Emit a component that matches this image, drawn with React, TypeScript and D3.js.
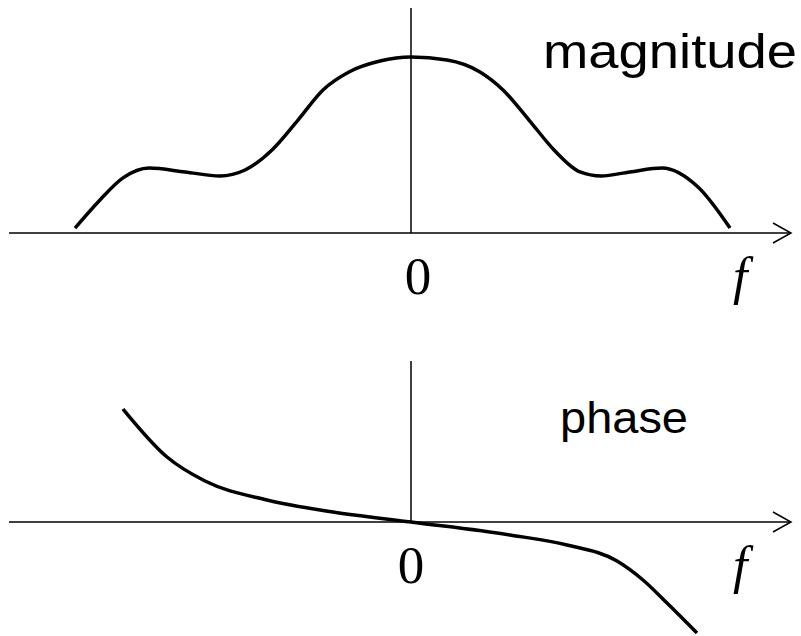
import React from "react";
import * as d3 from "d3";

// Magnitude curve samples: frequency f (units) and magnitude (relative to peak)
const magF = [-6.72, -6.22, -5.76, -5.24, -4.52, -3.82, -3.32, -2.78, -2.26, -1.76, -1.24, -0.62, 0, 0.72, 1.38, 1.84, 2.36, 2.86, 3.38, 3.8, 4.38, 5.02, 5.74, 6.38];
const magV = [0.028, 0.188, 0.313, 0.369, 0.347, 0.324, 0.358, 0.472, 0.642, 0.813, 0.915, 0.977, 1.0, 0.983, 0.915, 0.813, 0.642, 0.472, 0.347, 0.324, 0.347, 0.369, 0.261, 0.028];

// Phase curve samples
const phaseF = [-5.76, -4.88, -4.12, -2.88, -1.56, 0, 1.98, 3.12, 4.12, 4.64, 5.12, 5.72];
const phaseV = [1.13, 0.65, 0.41, 0.22, 0.1, 0, -0.13, -0.23, -0.39, -0.58, -0.81, -1.11];

const tickLabel = "0";
const axisLabel = "f";
const topTitle = "magnitude";
const bottomTitle = "phase";

const W = 801;
const H = 636;

export default function App() {
  const x = d3.scaleLinear().domain([-8, 8]).range([11, 811]);
  const yMag = d3.scaleLinear().domain([0, 1]).range([233, 57]);
  const yPh = d3.scaleLinear().domain([0, 1]).range([522, 422]);

  const magLine = d3
    .line<number>()
    .x((_, i) => x(magF[i]))
    .y((d) => yMag(d))
    .curve(d3.curveMonotoneX);
  const phLine = d3
    .line<number>()
    .x((_, i) => x(phaseF[i]))
    .y((d) => yPh(d))
    .curve(d3.curveMonotoneX);

  const axisLeft = -8.04;
  const axisRight = 7.6;
  const arrowBack = 0.36;
  const arrowHalf = 10;

  const axes = [
    { yBase: yMag(0), yTop: 8, zeroX: 418, labelY: 294 },
    { yBase: yPh(0), yTop: 361, zeroX: 411, labelY: 583 },
  ];

  return (
    <svg
      width={W}
      height={H}
      style={{ position: "absolute", left: 0, top: 0, background: "#fff" }}
    >
      <rect x={0} y={0} width={W} height={H} fill="#fff" />
      {axes.map((a, i) => (
        <g key={i}>
          <line x1={x(axisLeft)} x2={x(axisRight)} y1={a.yBase} y2={a.yBase} stroke="#000" strokeWidth={1.5} />
          <polyline
            points={`${x(axisRight - arrowBack)},${a.yBase - arrowHalf} ${x(axisRight)},${a.yBase} ${x(axisRight - arrowBack)},${a.yBase + arrowHalf}`}
            fill="none"
            stroke="#000"
            strokeWidth={1.5}
          />
          <line x1={x(0)} x2={x(0)} y1={a.yTop} y2={a.yBase} stroke="#000" strokeWidth={1.5} />
          <text
            x={a.zeroX}
            y={a.labelY}
            textAnchor="middle"
            fontFamily="'Liberation Serif', 'Times New Roman', serif"
            fontSize={53}
            fill="#000"
          >
            {tickLabel}
          </text>
          <text
            x={733}
            y={a.labelY}
            fontFamily="'Liberation Serif', 'Times New Roman', serif"
            fontStyle="italic"
            fontSize={52}
            fill="#000"
          >
            {axisLabel}
          </text>
        </g>
      ))}
      <path d={magLine(magV) || ""} fill="none" stroke="#000" strokeWidth={3.5} strokeLinejoin="round" />
      <path d={phLine(phaseV) || ""} fill="none" stroke="#000" strokeWidth={3.5} strokeLinejoin="round" />
      <text
        x={543}
        y={68}
        fontFamily="'Liberation Sans', Arial, sans-serif"
        fontSize={48}
        textLength={254}
        lengthAdjust="spacingAndGlyphs"
        fill="#000"
      >
        {topTitle}
      </text>
      <text
        x={560}
        y={433}
        fontFamily="'Liberation Sans', Arial, sans-serif"
        fontSize={45}
        textLength={128}
        lengthAdjust="spacingAndGlyphs"
        fill="#000"
      >
        {bottomTitle}
      </text>
    </svg>
  );
}
